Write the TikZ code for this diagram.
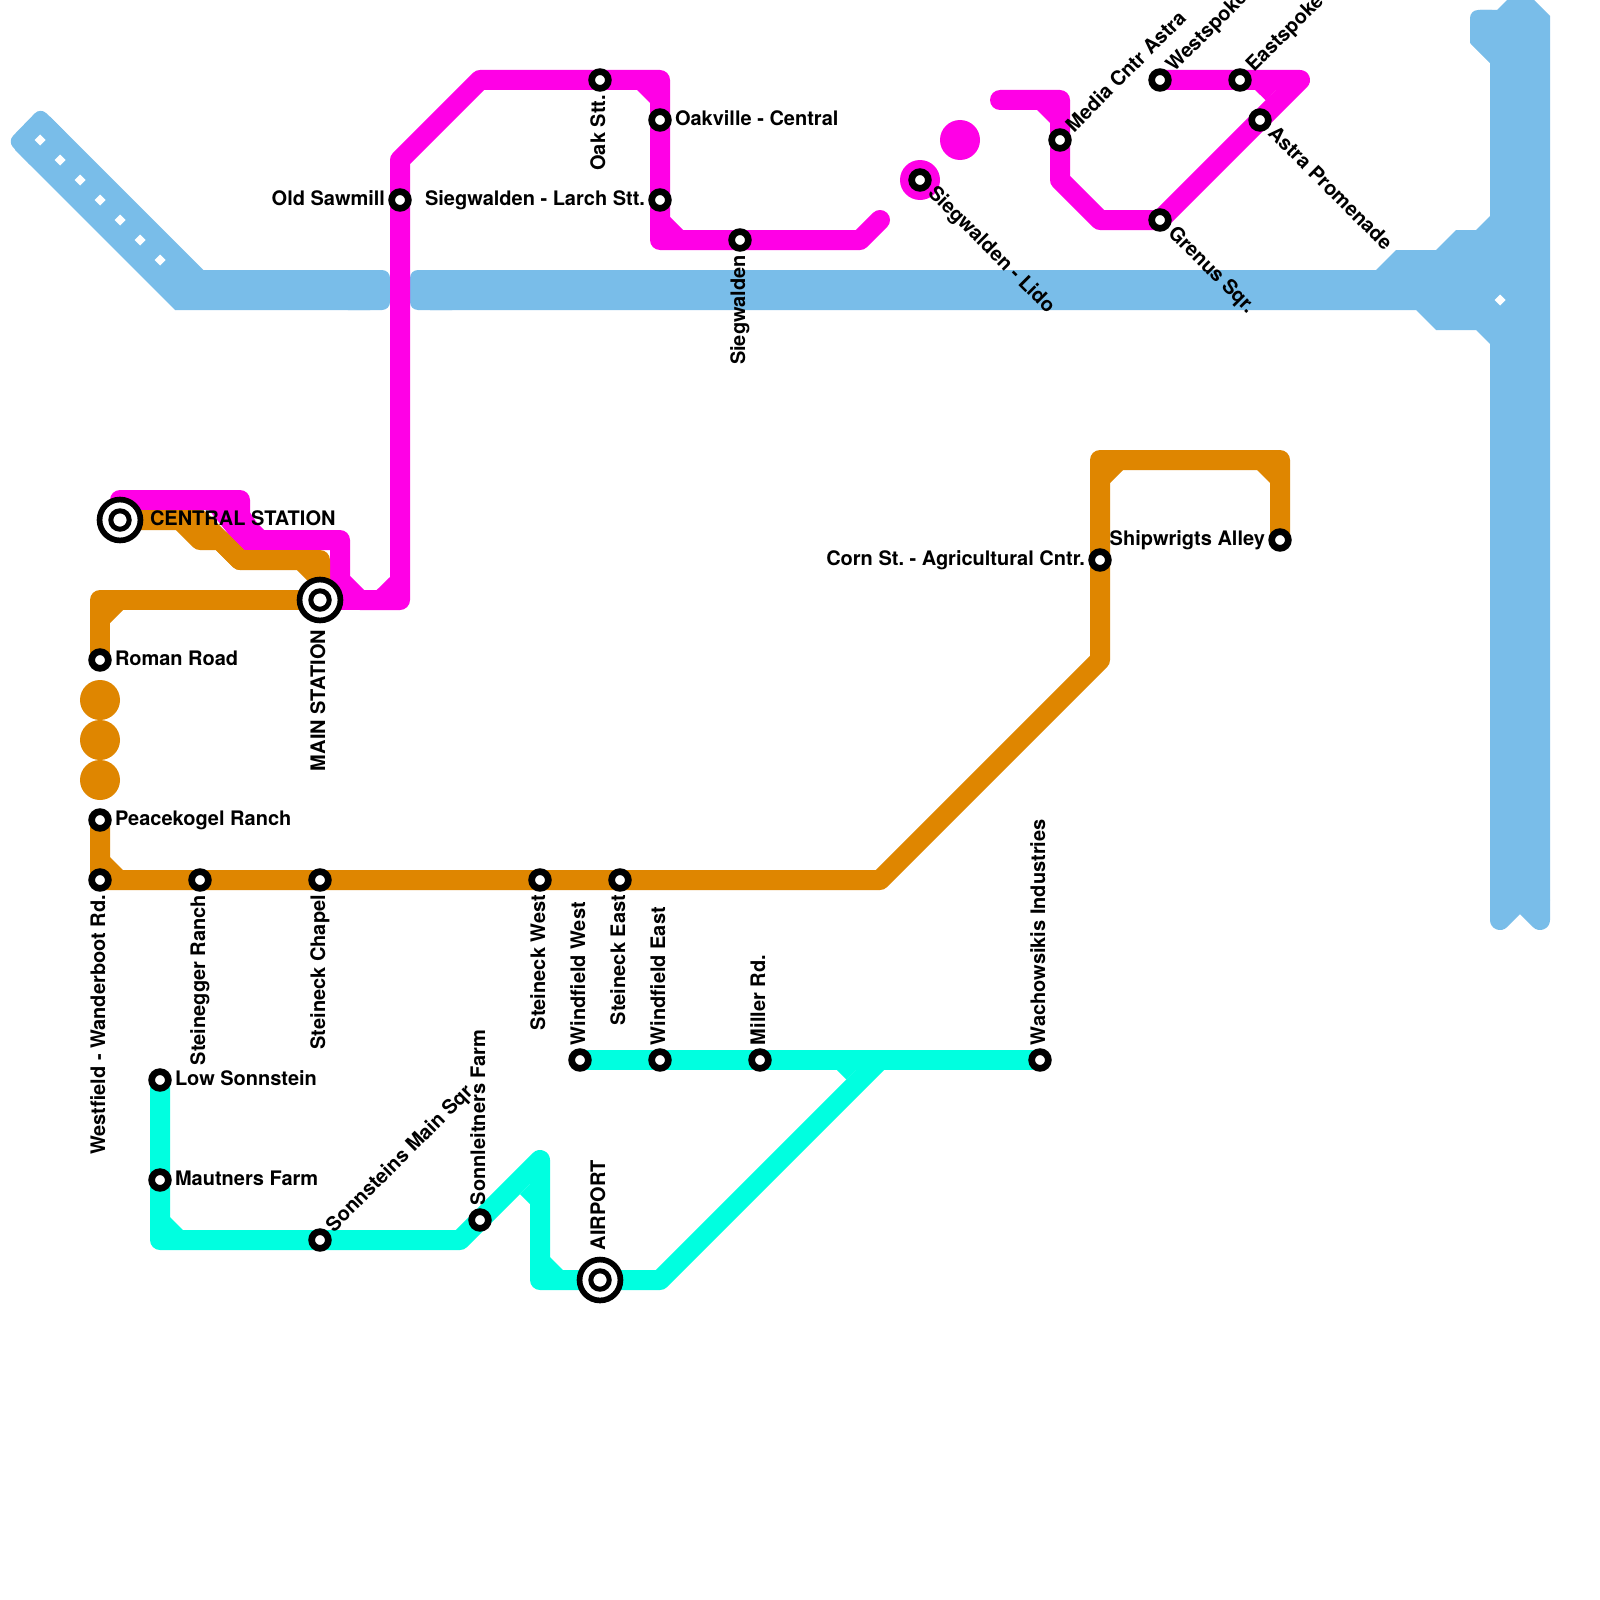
\documentclass[tikz,border=0pt]{standalone}
\usepackage{fontspec}
\setmainfont{TeX Gyre Heros}
\frenchspacing
\definecolor{mmag}{HTML}{FF00E6}
\definecolor{morg}{HTML}{DF8600}
\definecolor{mteal}{HTML}{00FFE0}
\definecolor{mblue}{HTML}{79BDE9}
\tikzset{
  track/.style={line width=20pt,line join=round,line cap=round},
  magline/.style={track,draw=mmag},
  orgline/.style={track,draw=morg},
  tealline/.style={track,draw=mteal},
  stn/.style={circle,draw=black,fill=white,line width=6.7pt,minimum size=16.7pt,inner sep=0pt,outer sep=0pt},
  hub/.style={circle,draw=black,fill=white,line width=5.7pt,minimum size=40.9pt,inner sep=0pt,outer sep=0pt,
    path picture={\draw[black,line width=5pt] (path picture bounding box.center) circle (9.2pt);}},
  lbl/.style={inner sep=0pt,outer sep=0pt,font=\bfseries\fontsize{20}{24}\selectfont,text=black},
  lblR/.style={lbl,anchor=base west},
  lblL/.style={lbl,anchor=base east},
  lblUp/.style={lbl,anchor=base west,rotate=90},
  lblDn/.style={lbl,anchor=base east,rotate=90},
  lblNE/.style={lbl,anchor=base west,rotate=45},
  lblSE/.style={lbl,anchor=base west,rotate=-45},
}
\begin{document}
\begin{tikzpicture}[x=1pt,y=-1pt]
\clip (0,0) rectangle (1600,1600);
\fill[white] (0,0) rectangle (1600,1600);
% station positions
\coordinate (sawmill) at (400,200);
\coordinate (oak) at (600,80);
\coordinate (oakville) at (660,120);
\coordinate (larch) at (660,200);
\coordinate (sieg) at (740,240);
\coordinate (lido) at (920,180);
\coordinate (media) at (1060,140);
\coordinate (west) at (1160,80);
\coordinate (east) at (1240,80);
\coordinate (astra) at (1260,120);
\coordinate (grenus) at (1160,220);
\coordinate (corn) at (1100,560);
\coordinate (ship) at (1280,540);
\coordinate (roman) at (100,660);
\coordinate (peace) at (100,820);
\coordinate (wander) at (100,880);
\coordinate (stein) at (200,880);
\coordinate (chapel) at (320,880);
\coordinate (swest) at (540,880);
\coordinate (seast) at (620,880);
\coordinate (wwest) at (580,1060);
\coordinate (weast) at (660,1060);
\coordinate (miller) at (760,1060);
\coordinate (wacho) at (1040,1060);
\coordinate (low) at (160,1080);
\coordinate (mautner) at (160,1180);
\coordinate (sonnst) at (320,1240);
\coordinate (sonnl) at (480,1220);
\coordinate (airport) at (600,1280);
\coordinate (central) at (120,520);
\coordinate (main) at (320,600);
% blue mass
\fill[mblue,rounded corners=8pt] (7.5,141.5) -- (40.5,107.5) -- (70,136.8) -- (35,170) -- cycle;
\fill[mblue] (25,125) -- (50,116.7) -- (203.3,270) -- (370,270) -- (370,310) -- (175,310) -- (15,150) -- cycle;
\fill[mblue,rounded corners=8pt] (340,270) rectangle (390,310);
\fill[mblue,rounded corners=8pt] (410,270) rectangle (460,310);
\fill[mblue] (430,270) -- (1376,270) -- (1396,250) -- (1436,250) -- (1456,230) -- (1476,230) -- (1490,216)
  -- (1490,63) -- (1471,44) -- (1480,10) -- (1497,10) -- (1507,0) -- (1534,0) -- (1550,16) -- (1550,900)
  -- (1490,900) -- (1490,344) -- (1476,330) -- (1436,330) -- (1416,310) -- (430,310) -- cycle;
\fill[mblue,rounded corners=8pt] (1470,10) rectangle (1500,44);
\fill[mblue] (1470,30) -- (1470,43) -- (1490,63) -- (1495,30) -- cycle;
\draw[track,draw=mblue] (1500,900) -- (1500,920) -- (1520,900) -- (1540,920) -- (1540,900);
\foreach \d in {0,...,6} {\fill[white] (40+20*\d-5.5,140+20*\d) -- (40+20*\d,140+20*\d-5.5) -- (40+20*\d+5.5,140+20*\d) -- (40+20*\d,140+20*\d+5.5) -- cycle;}
\fill[white] (1494.5,300) -- (1500,294.5) -- (1505.5,300) -- (1500,305.5) -- cycle;
% magenta
\fill[mmag] (205,505) -- (245,505) -- (265,535) -- (265,552) -- (243,552) -- cycle;
\draw[magline] (120,500) -- (240,500) -- (240,520) -- (260,540) -- (340,540) -- (340,580) -- (360,600) -- (400,600)
  -- (sawmill) -- (400,160) -- (480,80) -- (oak) -- (660,80) -- (oakville) -- (larch) -- (660,240) -- (sieg) -- (860,240) -- (880,220);
\draw[magline] (main) -- (360,600);
\fill[mmag] (376.7,590) -- (390,590) -- (390,577) -- cycle;
\fill[mmag] (637,90) -- (650,90) -- (650,103) -- cycle;
\fill[mmag] (670,217) -- (670,230) -- (683,230) -- cycle;
\fill[mmag] (lido) circle (20pt);
\fill[mmag] (960,140) circle (20pt);
\draw[magline] (1000,100) -- (1060,100) -- (media) -- (1060,180) -- (1100,220) -- (grenus) -- (astra) -- (1300,80) -- (east) -- (west);
\fill[mmag] (1037,110) -- (1050,110) -- (1050,123) -- cycle;
\fill[mmag] (1255,90) -- (1276,90) -- (1266,100.5) -- cycle;
% orange
\draw[orgline] (central) -- (200,520) -- (240,560) -- (320,560) -- (main);
\draw[orgline] (180,520) -- (200,540) -- (220,540) -- (240,560);
\fill[morg] (297,570) -- (310,570) -- (310,583) -- cycle;
\draw[orgline] (main) -- (100,600) -- (roman);
\fill[morg] (110,610) -- (123,610) -- (110,623) -- cycle;
\fill[morg] (100,700) circle (20pt);
\fill[morg] (100,740) circle (20pt);
\fill[morg] (100,780) circle (20pt);
\draw[orgline] (peace) -- (wander) -- (stein) -- (chapel) -- (swest) -- (seast) -- (880,880) -- (1100,660) -- (corn) -- (1100,460) -- (1280,460) -- (ship);
\fill[morg] (110,857) -- (110,870) -- (123,870) -- cycle;
\fill[morg] (1123,470) -- (1110,470) -- (1110,483) -- cycle;
\fill[morg] (1257,470) -- (1270,470) -- (1270,483) -- cycle;
% teal
\draw[tealline] (low) -- (mautner) -- (160,1240) -- (sonnst) -- (460,1240) -- (sonnl) -- (540,1160) -- (540,1280) -- (airport) -- (660,1280) -- (880,1060);
\draw[tealline] (wwest) -- (weast) -- (miller) -- (wacho);
\fill[mteal] (170,1217) -- (170,1230) -- (183,1230) -- cycle;
\fill[mteal] (520,1194) -- (530,1184) -- (530,1204) -- cycle;
\fill[mteal] (550,1257) -- (550,1270) -- (563,1270) -- cycle;
\fill[mteal] (837,1070) -- (856,1070) -- (846.5,1079.5) -- cycle;
% stations
\foreach \s in {sawmill,oak,oakville,larch,sieg,lido,media,west,east,astra,grenus,corn,ship,roman,peace,wander,stein,chapel,swest,seast,wwest,weast,miller,wacho,low,mautner,sonnst,sonnl}
  {\node[stn] (n-\s) at (\s) {};}
\foreach \s in {central,main,airport} {\node[hub] (n-\s) at (\s) {};}
% labels
\node[lblL] (t-sawmill) at (385,205) {Old Sawmill};
\node[lblDn] (t-oak) at (605,95) {Oak Stt.};
\node[lblR] (t-oakville) at (675,125) {Oakville - Central};
\node[lblL] (t-larch) at (645,205) {Siegwalden - Larch Stt.};
\node[lblDn] (t-sieg) at (745,255) {Siegwalden};
\node[lblSE] (t-lido) at (927,194) {Siegwalden - Lido};
\node[lblNE] (t-media) at (1074,133) {Media Cntr Astra};
\node[lblNE] (t-west) at (1174,73) {Westspoke};
\node[lblNE] (t-east) at (1254,73) {Eastspoke};
\node[lblSE] (t-astra) at (1267,134) {Astra Promenade};
\node[lblSE] (t-grenus) at (1167,234) {Grenus Sqr.};
\node[lblL] (t-corn) at (1085,565) {Corn St. - Agricultural Cntr.};
\node[lblL] (t-ship) at (1265,545) {Shipwrigts Alley};
\node[lblR] (t-roman) at (115,665) {Roman Road};
\node[lblR] (t-peace) at (115,825) {Peacekogel Ranch};
\node[lblDn] (t-wander) at (105,895) {Westfield - Wanderboot Rd.};
\node[lblDn] (t-stein) at (205,895) {Steinegger Ranch};
\node[lblDn] (t-chapel) at (325,895) {Steineck Chapel};
\node[lblDn] (t-swest) at (545,895) {Steineck West};
\node[lblDn] (t-seast) at (625,895) {Steineck East};
\node[lblUp] (t-wwest) at (585,1045) {Windfield West};
\node[lblUp] (t-weast) at (665,1045) {Windfield East};
\node[lblUp] (t-miller) at (765,1045) {Miller Rd.};
\node[lblUp] (t-wacho) at (1045,1045) {Wachowsikis Industries};
\node[lblR] (t-low) at (175,1085) {Low Sonnstein};
\node[lblR] (t-mautner) at (175,1185) {Mautners Farm};
\node[lblNE] (t-sonnst) at (334,1233) {Sonnsteins Main Sqr};
\node[lblUp] (t-sonnl) at (485,1205) {Sonnleitners Farm};
\node[lblUp] (t-airport) at (605,1250) {AIRPORT};
\node[lblR] (t-central) at (150,525) {CENTRAL STATION};
\node[lblDn] (t-main) at (325,630) {MAIN STATION};
\end{tikzpicture}
\end{document}
